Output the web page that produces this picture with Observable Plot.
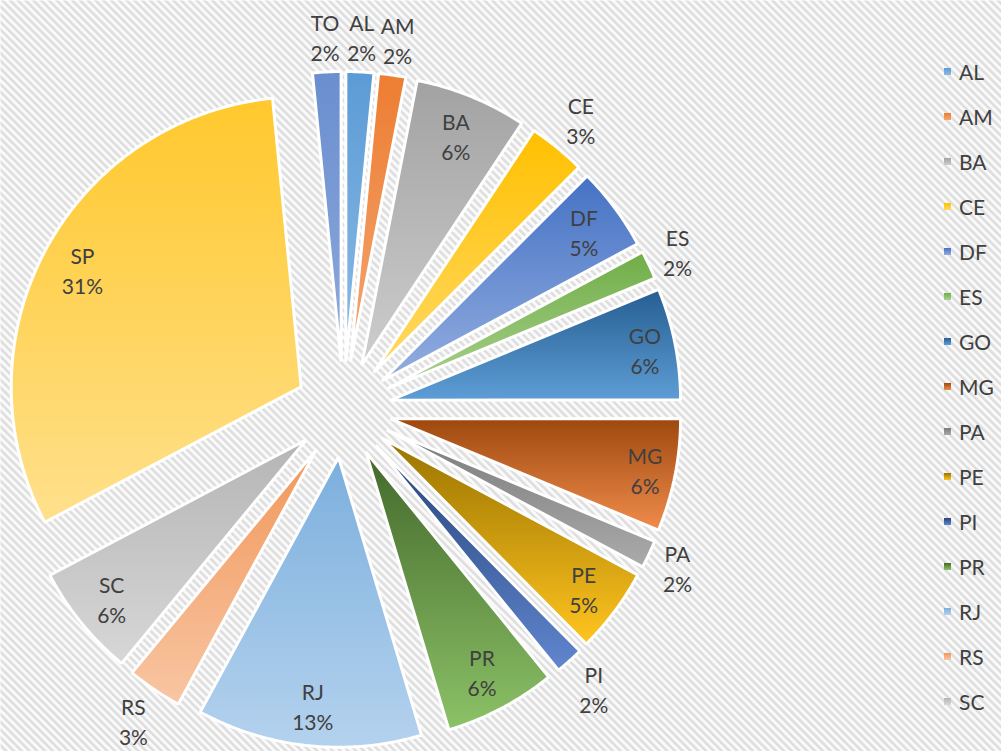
<!DOCTYPE html>
<html><head><meta charset="utf-8">
<script src="https://cdn.jsdelivr.net/npm/d3@7"></script>
<script src="https://cdn.jsdelivr.net/npm/@observablehq/plot@0.6"></script>
<style>
body{margin:0;background:#fff;}
#wrap{position:relative;width:1001px;height:751px;overflow:hidden;}
#wrap svg{position:absolute;left:0;top:0;}
#legend{position:absolute;left:944px;top:48.5px;font-family:Lato,"Noto Sans",sans-serif;font-size:21px;color:#404040;}
.item{height:45px;display:flex;align-items:center;}
.sw{width:7px;height:7px;margin-right:8px;flex:none;}
</style></head><body><div id="wrap"></div>
<script>
// ---- data ----
const states = ["AL","AM","BA","CE","DF","ES","GO","MG","PA","PE","PI","PR","RJ","RS","SC","SP","TO"];
const values = [155,152,625,320,467,160,622,630,155,475,158,625,1255,308,628,3120,158];
const topColors = ["#5B9BD5","#ED7D31","#A2A2A2","#FFC000","#4472C4","#70AD47","#255E91","#9E480E","#7A7A7A","#997300","#264478","#43682B","#7CAFDD","#F1975A","#B5B5B5","#FFC82C","#6A8ECF"];
const bottomColors = ["#8DBBE6","#F4A672","#CDCDCD","#FFD966","#94AEE0","#A9D18E","#5E9DD6","#F08C4C","#ABABAB","#FFC41F","#6186CF","#8CC267","#B4D2EE","#F8C6A3","#D7D7D7","#FFE08C","#8EAADC"];
const legendStates = states.slice(0, 15);

// ---- layout ----
const W = 1001, H = 751, R = 290, cx = 343, cy = 409, explode = 48 / R;
const total = d3.sum(values);
const fmt = d3.format(".0%");
const arcs = d3.pie().sort(null).value(d => d)(values);

const pts = [];
const labels = [];
arcs.forEach((a, i) => {
  const s = states[i];
  const mid = (a.startAngle + a.endAngle) / 2;
  const ux = Math.sin(mid), uy = -Math.cos(mid);
  const ax = explode * ux, ay = explode * uy;
  pts.push({state: s, fill: `url(#g-${s})`, x: ax, y: ay});
  const n = Math.max(8, Math.ceil((a.endAngle - a.startAngle) / 0.01));
  for (let k = 0; k <= n; k++) {
    const t = a.startAngle + (a.endAngle - a.startAngle) * k / n;
    pts.push({state: s, fill: `url(#g-${s})`, x: ax + Math.sin(t), y: ay - Math.cos(t)});
  }
  const pct = fmt(values[i] / total);
  const w = Math.max(s.length, pct.length) * 12, h = 50;
  const ext = Math.abs(ux) * w / 2 + Math.abs(uy) * h / 2;
  const inside = values[i] / total >= 0.04;
  const r = inside ? (276 - ext) / R : (300 + ext) / R;
  labels.push({x: ax + r * ux, y: ay + r * uy, text: `${s}\n${pct}`});
});

const svg = Plot.plot({
  width: W, height: H, margin: 0,
  x: {domain: [-cx / R, (W - cx) / R], range: [0, W], axis: null},
  y: {domain: [-cy / R, (H - cy) / R], range: [0, H], axis: null},
  color: {type: "identity"},
  style: {background: "transparent", overflow: "visible"},
  marks: [
    Plot.frame({fill: "url(#stripes)", stroke: null}),
    Plot.line(pts, {x: "x", y: "y", z: "state", fill: "fill", stroke: "white", strokeWidth: 3, curve: "linear-closed", strokeLinejoin: "miter"}),
    Plot.text(labels, {x: "x", y: "y", text: "text", fill: "#404040", fontSize: 21, lineHeight: 1.43, fontFamily: "Lato, 'Noto Sans', sans-serif", textAnchor: "middle", lineAnchor: "middle"})
  ]
});

// gradient + pattern defs
const defs = d3.select(svg).insert("defs", ":first-child");
const pat = defs.append("pattern").attr("id", "stripes").attr("patternUnits", "userSpaceOnUse")
  .attr("width", 5.5).attr("height", 5.5).attr("patternTransform", "rotate(-45)");
pat.append("rect").attr("width", 5.5).attr("height", 5.5).attr("fill", "#fafafa");
pat.append("rect").attr("width", 2.6).attr("height", 5.5).attr("fill", "#dedede");
states.forEach((s, i) => {
  const g = defs.append("linearGradient").attr("id", `g-${s}`).attr("x1", 0).attr("y1", 0).attr("x2", 0).attr("y2", 1);
  g.append("stop").attr("offset", 0).attr("stop-color", topColors[i]);
  g.append("stop").attr("offset", 1).attr("stop-color", bottomColors[i]);
});

const wrap = document.getElementById("wrap");
wrap.appendChild(svg);

// legend
const leg = d3.select(wrap).append("div").attr("id", "legend");
legendStates.forEach(s => {
  const i = states.indexOf(s);
  const it = leg.append("div").attr("class", "item");
  it.append("div").attr("class", "sw").style("background", `linear-gradient(${topColors[i]}, ${bottomColors[i]})`);
  it.append("span").text(s);
});
</script></body></html>
